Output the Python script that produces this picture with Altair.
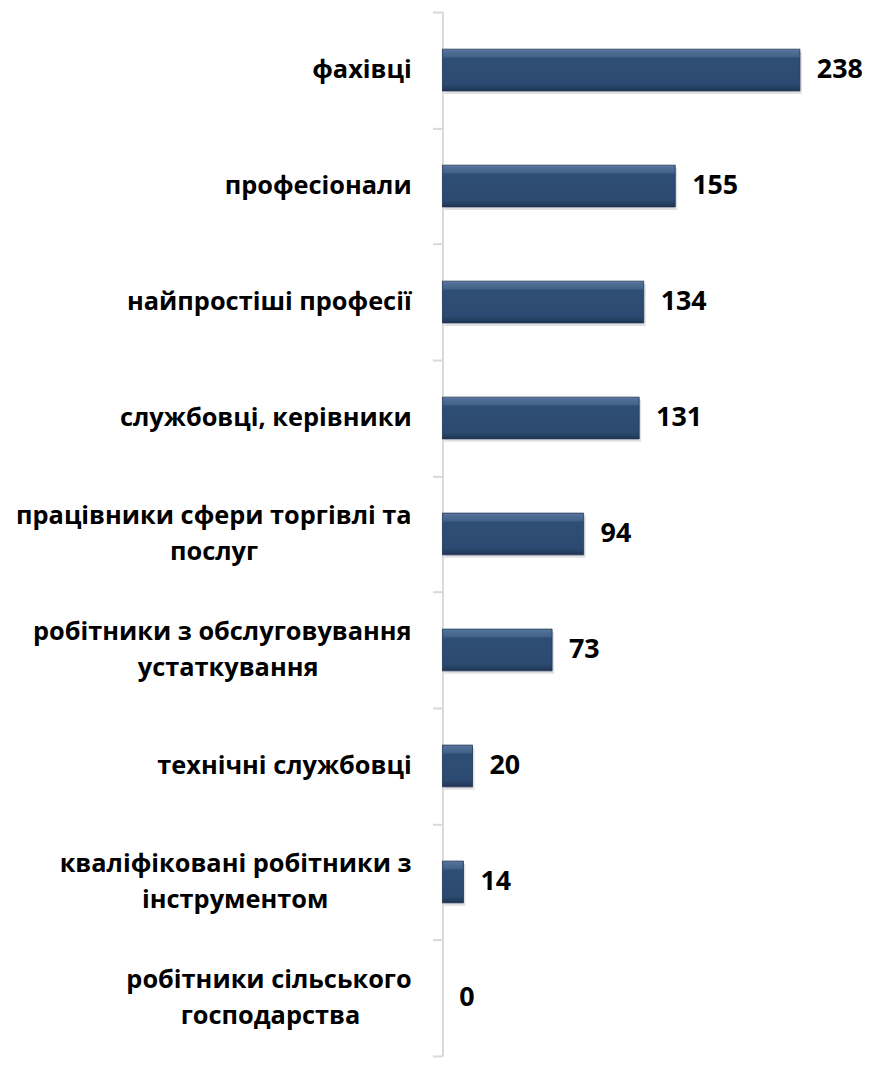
import altair as alt
import pandas as pd

# Category labels split into display lines (first line, second line)
line1 = [
    "фахівці",
    "професіонали",
    "найпростіші професії ",
    "службовці, керівники",
    "працівники сфери торгівлі та",
    "робітники з обслуговування",
    "технічні службовці",
    "кваліфіковані робітники з",
    "робітники сільського",
]
line2 = [
    "",
    "",
    "",
    "",
    "послуг",
    "устаткування",
    "",
    "інструментом",
    "господарства",
]
values = [238, 155, 134, 131, 94, 73, 20, 14, 0]

categories = [(a + " " + b) if b else a for a, b in zip(line1, line2)]

df = pd.DataFrame({"category": categories, "line1": line1, "line2": line2, "value": values})

FONT = "Open Sans"
LABEL_SIZE = 25.5
VALUE_SIZE = 27
GAP = 31          # distance between axis line and right edge of category labels
CHAR_W = 14.2     # approx. average glyph width used to centre the 2nd line under the 1st
LINE_OFF = 18.5

y_enc = alt.Y(
    "category:N",
    sort=categories,
    scale=alt.Scale(paddingInner=0, paddingOuter=0),
    axis=alt.Axis(
        labels=False,
        title=None,
        domainColor="#d9d9d9",
        domainWidth=2,
        tickColor="#d9d9d9",
        tickWidth=2,
        tickSize=10,
        tickBand="extent",
        grid=False,
    ),
)
x_enc = alt.X("value:Q", scale=alt.Scale(domain=[0, 278]), axis=None)

base = alt.Chart(df)

bevel = alt.Gradient(
    gradient="linear",
    x1=0, x2=0, y1=0, y2=1,
    stops=[
        alt.GradientStop(color="#5F7EA4", offset=0.0),
        alt.GradientStop(color="#4F6F96", offset=0.05),
        alt.GradientStop(color="#45648B", offset=0.17),
        alt.GradientStop(color="#2F4E76", offset=0.22),
        alt.GradientStop(color="#2C4A71", offset=0.84),
        alt.GradientStop(color="#253E60", offset=0.93),
        alt.GradientStop(color="#1E3352", offset=1.0),
    ],
)

shadow = base.transform_filter("datum.value > 0").mark_bar(
    height=42, yOffset=3, xOffset=2, color="#000000", opacity=0.12
).encode(x=x_enc, y=y_enc)

bars = base.transform_filter("datum.value > 0").mark_bar(
    height=42, color=bevel, stroke="#1F3554", strokeWidth=0.8
).encode(x=x_enc, y=y_enc)

vals = base.mark_text(
    align="left", baseline="middle", dx=17, font=FONT, fontSize=VALUE_SIZE,
    fontWeight="bold", color="#000000"
).encode(x=x_enc, y=y_enc, text=alt.Text("value:Q"))

single = base.transform_filter("datum.line2 == ''").mark_text(
    align="right", baseline="middle", font=FONT, fontSize=LABEL_SIZE,
    fontWeight="bold", color="#000000"
).encode(x=alt.value(-GAP), y=y_enc, text="line1:N")

first = base.transform_filter("datum.line2 != ''").mark_text(
    align="right", baseline="middle", dy=-LINE_OFF, font=FONT, fontSize=LABEL_SIZE,
    fontWeight="bold", color="#000000"
).encode(x=alt.value(-GAP), y=y_enc, text="line1:N")

second = base.transform_filter("datum.line2 != ''").transform_calculate(
    cx=f"-{GAP} - length(datum.line1) * {CHAR_W} / 2"
).mark_text(
    align="center", baseline="middle", dy=LINE_OFF, font=FONT, fontSize=LABEL_SIZE,
    fontWeight="bold", color="#000000"
).encode(x=alt.X("cx:Q", scale=None), y=y_enc, text="line2:N")

chart = alt.layer(shadow, bars, vals, single, first, second).properties(
    width=420,
    height=1050,
    padding={"left": 437, "top": 1, "right": 2, "bottom": 0},
    autosize=alt.AutoSizeParams(type="none"),
).configure_view(stroke=None)

chart.save("out.html", embed_options={"renderer": "svg", "actions": False})
